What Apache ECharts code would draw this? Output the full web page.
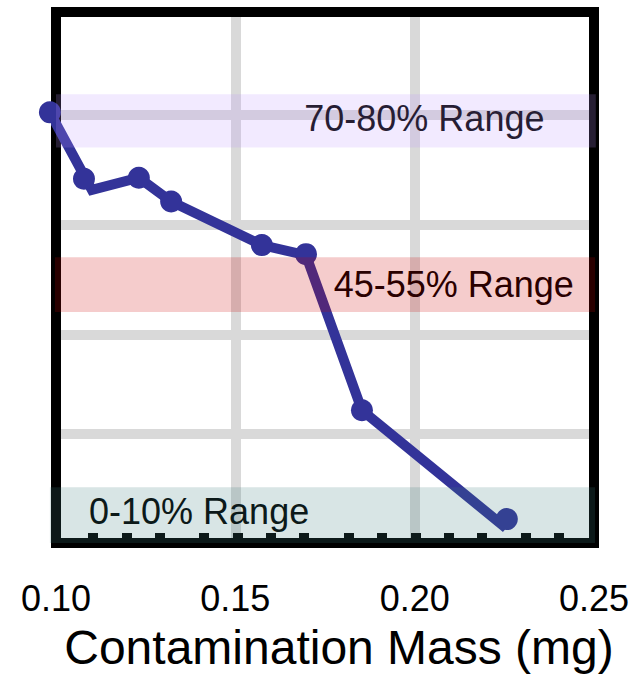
<!DOCTYPE html>
<html><head><meta charset="utf-8">
<script src="https://cdn.jsdelivr.net/npm/echarts@6/dist/echarts.min.js"></script>
<style>html,body{margin:0;padding:0;background:#fff}#c{width:638px;height:676px}</style>
</head><body><div id="c"></div>
<script>
// ---- data ----
const xTickValues = [0.10, 0.15, 0.20, 0.25];
const lineX = [0.0983, 0.1100, 0.1231, 0.1321, 0.1574, 0.1697, 0.1853, 0.2255];
const lineY = [81.1, 66.5, 68.8, 64.3, 56.1, 54.2, 25.0, 2.8];
const markerX = [0.0983, 0.1078, 0.1231, 0.1321, 0.1574, 0.1697, 0.1853, 0.2257];
const markerY = [81.1, 68.6, 68.8, 64.3, 56.1, 54.4, 25.0, 4.5];
const bandLabels = ['70-80% Range', '45-55% Range', '0-10% Range'];
const bandYFrom = [74.5, 43.5, 0];
const bandYTo = [84.5, 53.8, 10.5];
const bandXFrom = [0.1000, 0.0997, 0.0983];
const bandXTo = [0.2505, 0.2503, 0.2503];
const bandLabelX = [0.2027, 0.2109, 0.1399];
const bandLabelY = [80.0, 48.6, 6.0];
const yGridValues = [20.6, 39.3, 60.0, 80.7];
const rugX = [0.1103, 0.1196, 0.1289, 0.1413, 0.1506, 0.1599, 0.1692, 0.1815, 0.1909, 0.2002, 0.2094, 0.2188, 0.2310, 0.2403];
const xName = 'Contamination Mass (mg)';

// ---- styles ----
const bandColors = ['rgba(190,150,255,0.2)', 'rgba(205,0,0,0.2)', 'rgba(60,125,125,0.2)'];
const lineColor = '#333399';
const FONT = '"Liberation Sans", Arial, Helvetica, sans-serif';

const chart = echarts.init(document.getElementById('c'), null, {renderer: 'svg'});
chart.setOption({
  animation: false,
  backgroundColor: '#fff',
  grid: {left: 56, right: 44, top: 12, bottom: 129, show: true, z: 1,
         borderColor: '#000', borderWidth: 10, backgroundColor: 'transparent'},
  xAxis: [{
    type: 'value', min: 0.10, max: 0.25, interval: 0.05, position: 'bottom',
    name: xName, nameLocation: 'middle', nameGap: 80,
    nameTextStyle: {fontFamily: FONT, fontSize: 48, color: '#000', padding: [0, 0, 0, 28]},
    axisLine: {show: false}, axisTick: {show: false},
    axisLabel: {fontFamily: FONT, fontSize: 36, color: '#000', margin: 37,
                formatter: v => v.toFixed(2)},
    splitLine: {show: true, lineStyle: {color: '#d9d9d9', width: 10}}
  }, {
    type: 'value', min: 0.10, max: 0.25, position: 'bottom',
    axisLine: {show: false}, axisLabel: {show: false}, splitLine: {show: false},
    axisTick: {show: true, inside: true, length: 10, customValues: rugX,
               lineStyle: {color: '#000', width: 10}}
  }],
  yAxis: {
    type: 'value', min: 0, max: 100,
    axisLine: {show: false}, axisLabel: {show: false},
    axisTick: {show: false, customValues: yGridValues},
    splitLine: {show: true, lineStyle: {color: '#d9d9d9', width: 10}}
  },
  series: [{
    type: 'line', z: 2, clip: false, showSymbol: false,
    data: lineX.map((x, i) => [x, lineY[i]]),
    lineStyle: {color: lineColor, width: 10, join: 'miter', cap: 'butt'}
  }, {
    type: 'scatter', z: 2, clip: false, symbol: 'circle', symbolSize: 22,
    data: markerX.map((x, i) => [x, markerY[i]]),
    itemStyle: {color: lineColor, opacity: 1}
  }, {
    type: 'custom', z: 3, clip: false,
    encode: {x: [0, 1, 4], y: [2, 3, 5]},
    data: bandLabels.map((l, i) => [bandXFrom[i], bandXTo[i], bandYFrom[i], bandYTo[i], bandLabelX[i], bandLabelY[i]]),
    renderItem: (params, api) => {
      const i = params.dataIndex;
      const tl = api.coord([api.value(0), api.value(3)]);
      const br = api.coord([api.value(1), api.value(2)]);
      const lp = api.coord([api.value(4), api.value(5)]);
      return {type: 'group', children: [
        {type: 'text', x: lp[0], y: lp[1],
         style: {text: bandLabels[i], fill: '#000', font: '36px ' + FONT,
                 align: 'center', verticalAlign: 'middle'}},
        {type: 'rect', shape: {x: tl[0], y: tl[1], width: br[0] - tl[0], height: br[1] - tl[1]},
         style: {fill: bandColors[i]}}
      ]};
    }
  }]
});
</script></body></html>
